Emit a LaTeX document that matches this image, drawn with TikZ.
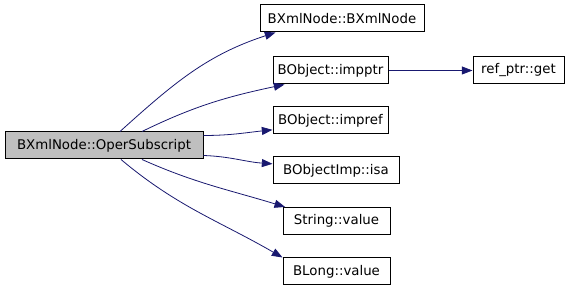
\documentclass[tikz,border=0pt]{standalone}
\usepackage{fontspec}
\setmainfont{DejaVu Sans}
\usepackage{tikz}
\usetikzlibrary{arrows.meta, positioning}
\definecolor{callblue}{HTML}{191970}
\definecolor{focusgray}{HTML}{BFBFBF}
\tikzset{
  func_box/.style={rectangle, draw=black, line width=0.75pt, fill=white, inner sep=0pt, minimum height=20.25pt, font=\fontsize{10pt}{12pt}\selectfont},
  focus_box/.style={func_box, fill=focusgray},
  call/.style={-{Triangle[length=8pt, width=6pt, fill=callblue]}, draw=callblue, line width=0.6pt}
}
\begin{document}
\begin{tikzpicture}[x=0.75pt, y=-0.75pt]
    \useasboundingbox (0,0) rectangle (576,291);

    % Caller and callees placed at pixel coordinates
    \node[focus_box, minimum width=148.5pt](oper) at (104,145.5) {BXmlNode::OperSubscript};
    \node[func_box, minimum width=123pt](ctor) at (342,18.5) {BXmlNode::BXmlNode};
    \node[func_box, minimum width=86.25pt](impptr) at (330.5,70.5) {BObject::impptr};
    \node[func_box, minimum width=68.25pt](refget) at (518.5,70.5) {ref\_ptr::get};
    \node[func_box, minimum width=86.25pt](impref) at (330.5,120.5) {BObject::impref};
    \node[func_box, minimum width=94.5pt](isa) at (336,170.5) {BObjectImp::isa};
    \node[func_box, minimum width=80.25pt](strval) at (336.5,221) {String::value};
    \node[func_box, minimum width=80.25pt](longval) at (336.5,271.5) {BLong::value};

    % Calls
    \draw[call] ([xshift=12pt]oper.north) to[out=42, in=198] ([xshift=12pt]ctor.south west);
    \draw[call] ([xshift=28.5pt]oper.north) to[out=26, in=192] ([xshift=9pt]impptr.south west);
    \draw[call] ([yshift=7.5pt]oper.east) to[out=0, in=186] ([yshift=3.5pt]impref.south west);
    \draw[call] ([yshift=-7.5pt]oper.east) to[out=-2, in=176] ([yshift=5pt]isa.west);
    \draw[call] ([xshift=28.5pt]oper.south) to[out=-24, in=163] ([xshift=2pt]strval.north west);
    \draw[call] ([xshift=12.75pt]oper.south) to[out=-40, in=150] (longval.north west);
    \draw[call] (impptr) -- (refget);
\end{tikzpicture}
\end{document}
